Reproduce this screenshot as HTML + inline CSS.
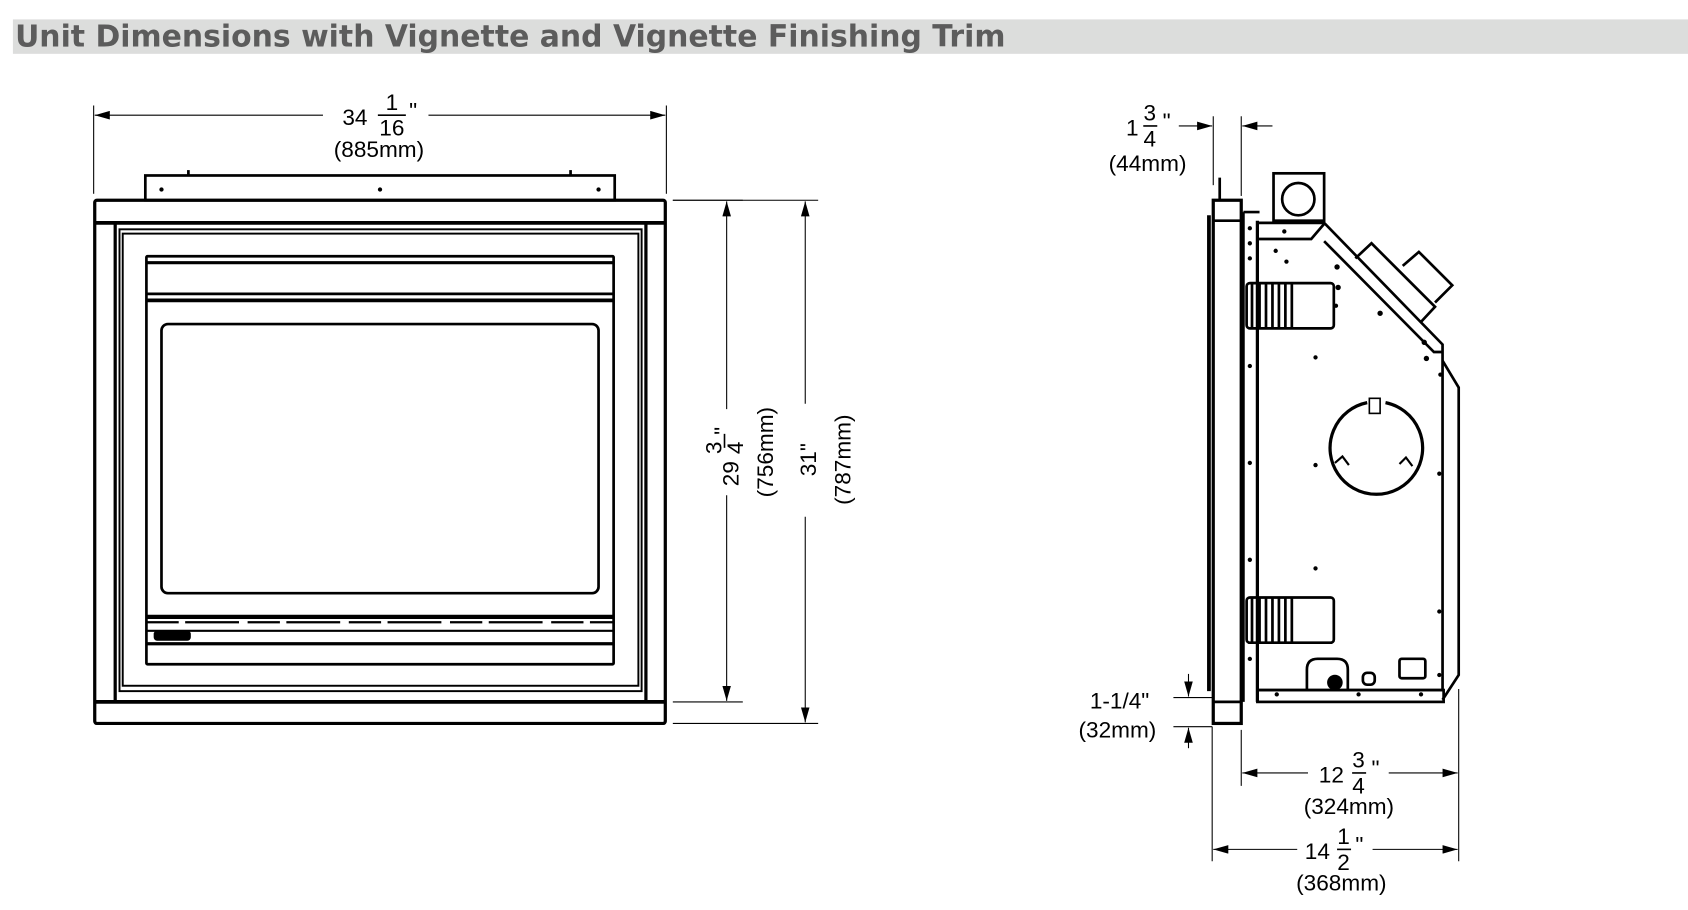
<!DOCTYPE html>
<html><head><meta charset="utf-8"><style>
html,body{margin:0;padding:0;background:#fff;}
svg{display:block;}
text{font-family:"Liberation Sans",Arial,sans-serif;fill:#000;}
</style></head><body>
<svg width="1688" height="910" viewBox="0 0 1568 845.3" xmlns="http://www.w3.org/2000/svg">
<defs>
<marker id="ar" viewBox="0 0 14 8" refX="14" refY="4" markerWidth="14" markerHeight="8" orient="auto" markerUnits="userSpaceOnUse"><path d="M0,0 L14,4 L0,8 Z" fill="#000"/></marker>
</defs>
<rect x="12" y="18" width="1556" height="32" fill="#dcdddc"/>
<text x="14" y="43" font-size="28" font-weight="bold" style="fill:#5c5c5c;font-family:'DejaVu Sans','Liberation Sans',sans-serif" textLength="920" lengthAdjust="spacingAndGlyphs">Unit Dimensions with Vignette and Vignette Finishing Trim</text>

<g fill="none" stroke="#000" stroke-width="2.5">
<line x1="87" y1="98" x2="87" y2="180" stroke-width="1"/>
<line x1="619" y1="98" x2="619" y2="180" stroke-width="1"/>
<line x1="300" y1="107" x2="88" y2="107" stroke-width="1" marker-end="url(#ar)"/>
<line x1="398" y1="107" x2="618" y2="107" stroke-width="1" marker-end="url(#ar)"/>
<rect x="135" y="163" width="436" height="23"/>
<line x1="175" y1="158" x2="175" y2="163"/><line x1="530" y1="158" x2="530" y2="163"/>
<rect x="88" y="186" width="530" height="486" rx="2" stroke-width="3"/>
<line x1="88" y1="207" x2="618" y2="207" stroke-width="3.5"/>
<line x1="88" y1="652" x2="618" y2="652" stroke-width="3.5"/>
<line x1="107" y1="207" x2="107" y2="652" stroke-width="3"/>
<line x1="600" y1="207" x2="600" y2="652" stroke-width="3"/>
<rect x="111" y="213" width="485" height="429" stroke-width="1.8"/>
<rect x="114" y="217" width="479" height="420" stroke-width="1.8"/>
<rect x="136" y="238" width="434" height="379" rx="1"/>
<line x1="136" y1="244" x2="570" y2="244" stroke-width="3"/>
<line x1="136" y1="273" x2="570" y2="273" stroke-width="2.5"/>
<line x1="136" y1="279" x2="570" y2="279" stroke-width="3.5"/>
<rect x="150" y="301" width="406" height="250" rx="6"/>
<line x1="136" y1="573" x2="570" y2="573" stroke-width="4"/>
<line x1="136" y1="578" x2="570" y2="578" stroke-width="2" stroke-dasharray="30,6,50,8"/>
<line x1="136" y1="586" x2="570" y2="586" stroke-width="2"/>
<line x1="136" y1="598" x2="570" y2="598" stroke-width="3"/>
<rect x="144" y="587" width="32" height="7" rx="2" fill="#000"/>
<line x1="625" y1="186" x2="690" y2="186" stroke-width="1"/>
<line x1="625" y1="652" x2="690" y2="652" stroke-width="1"/>
<line x1="625" y1="186" x2="760" y2="186" stroke-width="1"/>
<line x1="625" y1="672" x2="760" y2="672" stroke-width="1"/>
<line x1="675" y1="380" x2="675" y2="187" stroke-width="1" marker-end="url(#ar)"/>
<line x1="675" y1="460" x2="675" y2="651" stroke-width="1" marker-end="url(#ar)"/>
<line x1="748" y1="375" x2="748" y2="187" stroke-width="1" marker-end="url(#ar)"/>
<line x1="748" y1="480" x2="748" y2="671" stroke-width="1" marker-end="url(#ar)"/>

<line x1="1127" y1="108" x2="1127" y2="172" stroke-width="1"/>
<line x1="1153" y1="108" x2="1153" y2="182" stroke-width="1"/>
<line x1="1095" y1="117" x2="1126" y2="117" stroke-width="1" marker-end="url(#ar)"/>
<line x1="1182" y1="117" x2="1154" y2="117" stroke-width="1" marker-end="url(#ar)"/>
<line x1="1133" y1="165" x2="1133" y2="186"/>
<rect x="1127" y="186" width="26" height="486" stroke-width="3"/>
<line x1="1127" y1="205" x2="1153" y2="205"/>
<line x1="1123" y1="200" x2="1123" y2="642" stroke-width="3.5"/>
<line x1="1127" y1="652" x2="1153" y2="652"/>
<line x1="1155" y1="197" x2="1155" y2="652"/>
<line x1="1168" y1="205" x2="1168" y2="652" stroke-width="3"/>
<line x1="1155" y1="197" x2="1170" y2="197"/>
<path d="M1168,207 L1230,207 L1340,320 L1340,641 L1168,641"/>
<path d="M1168,222 L1218,222 L1230,208"/>
<path d="M1230,224 L1332,327 L1340,327"/>
<path d="M1340,335 L1355,360 L1355,627 L1340,650"/>
<rect x="1168" y="641" width="173" height="11"/>
<rect x="1183" y="161" width="47" height="44"/>
<circle cx="1206" cy="185" r="15"/>
<path d="M1259,240 L1274,226 L1333,285 L1320,299"/>
<path d="M1303,247 L1318,234 L1349,265 L1333,281"/>
<rect x="1158" y="263" width="81" height="42" rx="3"/>
<rect x="1158" y="555" width="81" height="42" rx="3"/>
<g stroke-width="2.5">
<path d="M1163,263v42M1170,263v42M1176,263v42M1182,263v42M1188,263v42M1194,263v42M1200,263v42"/>
<path d="M1163,555v42M1170,555v42M1176,555v42M1182,555v42M1188,555v42M1194,555v42M1200,555v42"/>
</g>
<path d="M1270,374 A43,43 0 1 0 1287,374" stroke-width="3"/>
<rect x="1272" y="370" width="10" height="14" stroke-width="1.5"/>
<path d="M1240,430 l7,-6 l6,8" stroke-width="2"/>
<path d="M1300,431 l6,-6 l6,8" stroke-width="2"/>
<path d="M1214,640 L1214,622 Q1214,612 1224,612 L1242,612 Q1252,612 1252,622 L1252,640"/>
<circle cx="1240" cy="634" r="6" fill="#000"/>
<rect x="1266" y="625" width="11" height="11" rx="4"/>
<rect x="1300" y="612" width="24" height="18" rx="2"/>
<line x1="1090" y1="648" x2="1126" y2="648" stroke-width="1"/>
<line x1="1090" y1="675" x2="1126" y2="675" stroke-width="1"/>
<line x1="1104" y1="626" x2="1104" y2="647" stroke-width="1" marker-end="url(#ar)"/>
<line x1="1104" y1="695" x2="1104" y2="676" stroke-width="1" marker-end="url(#ar)"/>
<line x1="1153" y1="678" x2="1153" y2="730" stroke-width="1"/>
<line x1="1355" y1="640" x2="1355" y2="800" stroke-width="1"/>
<line x1="1126" y1="675" x2="1126" y2="800" stroke-width="1"/>
<line x1="1215" y1="718" x2="1154" y2="718" stroke-width="1" marker-end="url(#ar)"/>
<line x1="1290" y1="718" x2="1354" y2="718" stroke-width="1" marker-end="url(#ar)"/>
<line x1="1205" y1="789" x2="1127" y2="789" stroke-width="1" marker-end="url(#ar)"/>
<line x1="1275" y1="789" x2="1354" y2="789" stroke-width="1" marker-end="url(#ar)"/>
<line x1="351" y1="107" x2="377" y2="107" stroke-width="1.5"/>
<line x1="1062" y1="117" x2="1075" y2="117" stroke-width="1.5"/>
<line x1="1256" y1="718" x2="1269" y2="718" stroke-width="1.5"/>
<line x1="1242" y1="789" x2="1255" y2="789" stroke-width="1.5"/>
<line x1="673" y1="403" x2="673" y2="416" stroke-width="1.5"/>
</g>
<g fill="#000">
<circle cx="150" cy="176" r="2"/><circle cx="353" cy="176" r="2"/><circle cx="556" cy="176" r="2"/>
<circle cx="1161" cy="212" r="2"/><circle cx="1161" cy="226" r="2"/><circle cx="1161" cy="240" r="2"/>
<circle cx="1161" cy="340" r="2"/><circle cx="1161" cy="430" r="2"/><circle cx="1161" cy="520" r="2"/><circle cx="1161" cy="612" r="2"/>
<circle cx="1193" cy="215" r="2"/><circle cx="1185" cy="233" r="2"/><circle cx="1195" cy="243" r="2"/>
<circle cx="1242" cy="248" r="2.5"/><circle cx="1243" cy="267" r="2.5"/><circle cx="1241" cy="284" r="2"/>
<circle cx="1282" cy="291" r="2.5"/><circle cx="1323" cy="318" r="2.5"/><circle cx="1325" cy="333" r="2.5"/><circle cx="1338" cy="348" r="2"/>
<circle cx="1222" cy="332" r="2"/><circle cx="1222" cy="432" r="2"/><circle cx="1222" cy="528" r="2"/>
<circle cx="1337" cy="440" r="2"/><circle cx="1337" cy="568" r="2"/><circle cx="1337" cy="627" r="2"/>
<circle cx="1186" cy="645" r="2"/><circle cx="1262" cy="645" r="2"/><circle cx="1320" cy="645" r="2"/>
</g>
<g font-size="21">
<text x="318" y="116">34</text>
<text x="364" y="102" text-anchor="middle">1</text>
<text x="364" y="126" text-anchor="middle">16</text>
<text x="380" y="110">"</text>
<text x="352" y="146" text-anchor="middle">(885mm)</text>

<g transform="translate(696,420) rotate(-90)">
<text x="-20" y="-10" text-anchor="middle">29</text>
<text x="4" y="-26" text-anchor="middle">3</text>
<text x="4" y="-6" text-anchor="middle">4</text>
<text x="16" y="-18">"</text>
<text x="0" y="22" text-anchor="middle">(756mm)</text>
</g>
<g transform="translate(768,427) rotate(-90)"><text x="0" y="-10" text-anchor="middle">31"</text><text x="0" y="22" text-anchor="middle">(787mm)</text></g>

<text x="1046" y="126">1</text>
<text x="1068" y="112" text-anchor="middle">3</text>
<text x="1068" y="136" text-anchor="middle">4</text>
<text x="1080" y="120">"</text>
<text x="1066" y="159" text-anchor="middle">(44mm)</text>

<text x="1040" y="658" text-anchor="middle">1-1/4"</text>
<text x="1038" y="685" text-anchor="middle">(32mm)</text>

<text x="1225" y="727">12</text>
<text x="1262" y="713" text-anchor="middle">3</text>
<text x="1262" y="737" text-anchor="middle">4</text>
<text x="1274" y="721">"</text>
<text x="1253" y="756" text-anchor="middle">(324mm)</text>

<text x="1212" y="798">14</text>
<text x="1248" y="784" text-anchor="middle">1</text>
<text x="1248" y="808" text-anchor="middle">2</text>
<text x="1259" y="792">"</text>
<text x="1246" y="827" text-anchor="middle">(368mm)</text>
</g>
</svg>
</body></html>
